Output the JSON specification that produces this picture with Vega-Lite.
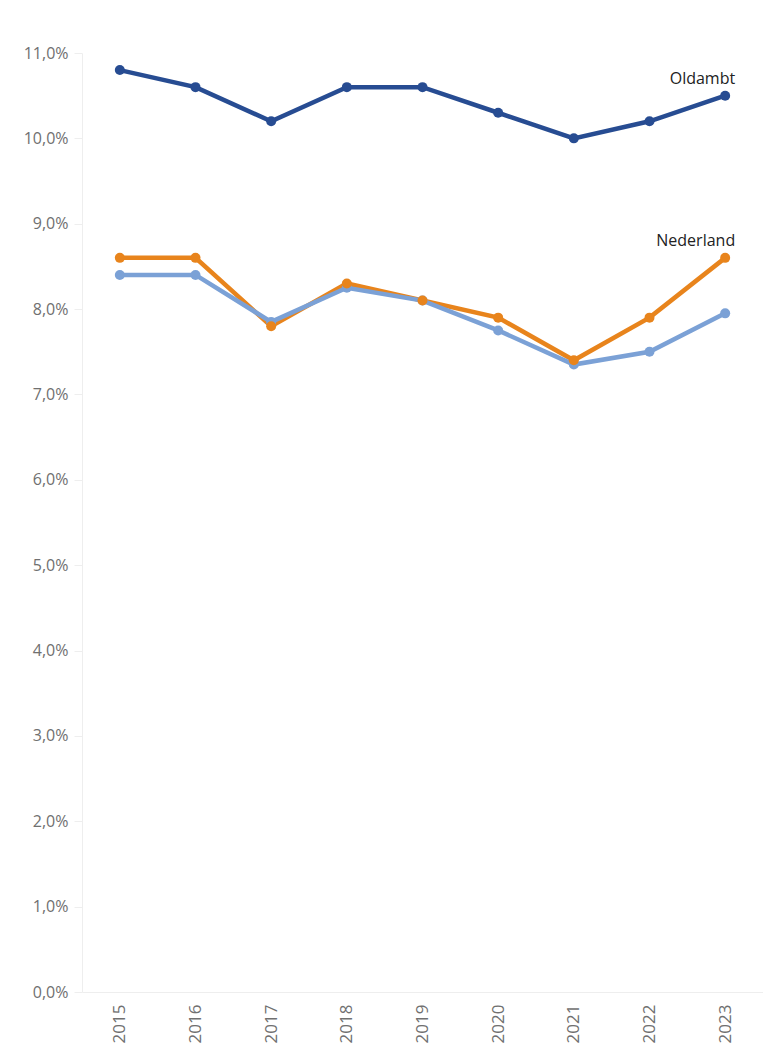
{
  "$schema": "https://vega.github.io/schema/vega-lite/v6.json",
  "width": 681,
  "height": 939,
  "autosize": {"type": "none"},
  "padding": {"left": 82, "top": 53, "right": 0, "bottom": 63},
  "background": "white",
  "config": {
    "view": {"stroke": null},
    "font": "Open Sans"
  },
  "data": {
    "values": [
      {"jaar": "2015", "reeks": "Nederland", "waarde": 8.6, "label": ""},
      {"jaar": "2016", "reeks": "Nederland", "waarde": 8.6, "label": ""},
      {"jaar": "2017", "reeks": "Nederland", "waarde": 7.8, "label": ""},
      {"jaar": "2018", "reeks": "Nederland", "waarde": 8.3, "label": ""},
      {"jaar": "2019", "reeks": "Nederland", "waarde": 8.1, "label": ""},
      {"jaar": "2020", "reeks": "Nederland", "waarde": 7.9, "label": ""},
      {"jaar": "2021", "reeks": "Nederland", "waarde": 7.4, "label": ""},
      {"jaar": "2022", "reeks": "Nederland", "waarde": 7.9, "label": ""},
      {"jaar": "2023", "reeks": "Nederland", "waarde": 8.6, "label": "Nederland"},
      {"jaar": "2015", "reeks": "Groningen", "waarde": 8.4, "label": ""},
      {"jaar": "2016", "reeks": "Groningen", "waarde": 8.4, "label": ""},
      {"jaar": "2017", "reeks": "Groningen", "waarde": 7.85, "label": ""},
      {"jaar": "2018", "reeks": "Groningen", "waarde": 8.25, "label": ""},
      {"jaar": "2019", "reeks": "Groningen", "waarde": 8.1, "label": ""},
      {"jaar": "2020", "reeks": "Groningen", "waarde": 7.75, "label": ""},
      {"jaar": "2021", "reeks": "Groningen", "waarde": 7.35, "label": ""},
      {"jaar": "2022", "reeks": "Groningen", "waarde": 7.5, "label": ""},
      {"jaar": "2023", "reeks": "Groningen", "waarde": 7.95, "label": ""},
      {"jaar": "2015", "reeks": "Oldambt", "waarde": 10.8, "label": ""},
      {"jaar": "2016", "reeks": "Oldambt", "waarde": 10.6, "label": ""},
      {"jaar": "2017", "reeks": "Oldambt", "waarde": 10.2, "label": ""},
      {"jaar": "2018", "reeks": "Oldambt", "waarde": 10.6, "label": ""},
      {"jaar": "2019", "reeks": "Oldambt", "waarde": 10.6, "label": ""},
      {"jaar": "2020", "reeks": "Oldambt", "waarde": 10.3, "label": ""},
      {"jaar": "2021", "reeks": "Oldambt", "waarde": 10.0, "label": ""},
      {"jaar": "2022", "reeks": "Oldambt", "waarde": 10.2, "label": ""},
      {"jaar": "2023", "reeks": "Oldambt", "waarde": 10.5, "label": "Oldambt"}
    ]
  },
  "encoding": {
    "x": {
      "field": "jaar",
      "type": "ordinal",
      "scale": {"type": "point", "padding": 0.5},
      "axis": {
        "title": null,
        "labelAngle": 270,
        "labelFontSize": 17,
        "labelColor": "#707070",
        "labelPadding": 12,
        "domainColor": "#eeeeee",
        "ticks": false
      }
    },
    "y": {
      "field": "waarde",
      "type": "quantitative",
      "scale": {"domain": [0, 11], "nice": false},
      "axis": {
        "title": null,
        "values": [0, 1, 2, 3, 4, 5, 6, 7, 8, 9, 10, 11],
        "labelExpr": "replace(format(datum.value, '.1f'), '.', ',') + '%'",
        "labelFontSize": 16,
        "labelColor": "#707070",
        "labelPadding": 6,
        "grid": false,
        "domainColor": "#eeeeee",
        "tickColor": "#eeeeee",
        "tickSize": 8
      }
    },
    "color": {
      "field": "reeks",
      "type": "nominal",
      "scale": {
        "domain": ["Nederland", "Groningen", "Oldambt"],
        "range": ["#e8841c", "#7ba1d6", "#274c92"]
      },
      "legend": null
    },
    "order": {"field": "reeks"}
  },
  "layer": [
    {
      "mark": {"type": "line", "strokeWidth": 4.5},
      "encoding": {}
    },
    {
      "mark": {"type": "point", "filled": true, "opacity": 1, "size": 100},
      "encoding": {}
    },
    {
      "transform": [{"filter": "datum.label != ''"}],
      "mark": {"type": "text", "align": "right", "dx": 10, "dy": -17, "fontSize": 16, "color": "#222222"},
      "encoding": {
        "text": {"field": "label"},
        "color": {"value": "#222222"}
      }
    }
  ]
}
